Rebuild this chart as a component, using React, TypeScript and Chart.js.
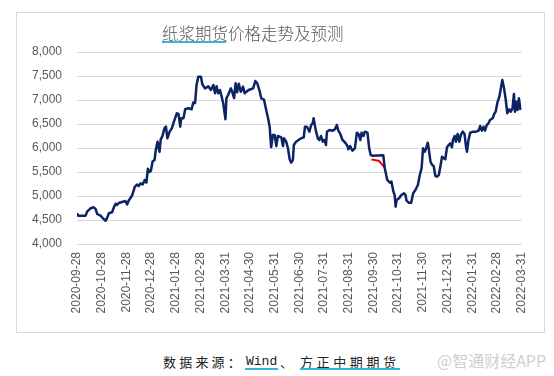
import React, { useEffect, useRef } from 'react';
import { Chart, registerables } from 'chart.js';

Chart.register(...registerables);

const xLabels = [
  '2020-09-28', '2020-10-28', '2020-11-28', '2020-12-28', '2021-01-28', '2021-02-28',
  '2021-03-31', '2021-04-30', '2021-05-31', '2021-06-30', '2021-07-31', '2021-08-31',
  '2021-09-30', '2021-10-31', '2021-11-30', '2021-12-31', '2022-01-31', '2022-02-28', '2022-03-31',
];

const yTicks = [4000, 4500, 5000, 5500, 6000, 6500, 7000, 7500, 8000];

// time position in label-interval units (0 = 2020-09-28, 18 = 2022-03-31)
const priceT = [
  0, 0.05, 0.35, 0.41, 0.55, 0.68, 0.75, 0.82, 0.95, 1.09, 1.16, 1.22, 1.29, 1.42, 1.49, 1.56, 1.62, 1.69,
  1.82, 1.96, 2.03, 2.09, 2.23, 2.34, 2.43, 2.5, 2.57, 2.66, 2.74, 2.81, 2.87, 2.93, 2.99, 3.06, 3.14, 3.19,
  3.26, 3.34, 3.39, 3.46, 3.54, 3.6, 3.66, 3.75, 3.84, 3.91, 3.97, 4.04, 4.11, 4.18, 4.22, 4.31, 4.38, 4.51,
  4.64, 4.71, 4.78, 4.84, 4.91, 5.02, 5.07, 5.18, 5.32, 5.42, 5.52, 5.59, 5.65, 5.72, 5.79, 5.85, 5.92, 6.01,
  6.05, 6.12, 6.23, 6.28, 6.36, 6.42, 6.48, 6.55, 6.63, 6.72, 6.79, 6.86, 6.95, 7.13, 7.22, 7.3, 7.4, 7.46,
  7.57, 7.66, 7.73, 7.8, 7.86, 7.93, 8.0, 8.07, 8.13, 8.27, 8.34, 8.38, 8.47, 8.54, 8.61, 8.67, 8.74, 8.78,
  8.87, 8.97, 9.07, 9.18, 9.23, 9.31, 9.41, 9.48, 9.54, 9.58, 9.64, 9.68, 9.75, 9.81, 9.88, 9.95, 10.02, 10.08,
  10.12, 10.22, 10.35, 10.44, 10.52, 10.58, 10.66, 10.75, 10.82, 10.88, 10.95, 10.99, 11.06, 11.15, 11.25,
  11.33, 11.4, 11.47, 11.52, 11.6, 11.65, 11.76, 11.83, 11.89, 11.96, 12.4, 12.46, 12.56, 12.67, 12.73, 12.81,
  12.86, 12.9, 12.94, 13.04, 13.13, 13.24, 13.3, 13.34, 13.44, 13.53, 13.61, 13.7, 13.8, 13.88, 13.95, 14.01,
  14.08, 14.15, 14.2, 14.24, 14.31, 14.38, 14.44, 14.51, 14.58, 14.65, 14.71, 14.78, 14.85, 14.91, 14.98,
  15.05, 15.11, 15.18, 15.22, 15.29, 15.34, 15.41, 15.48, 15.54, 15.62, 15.69, 15.75, 15.79, 15.85, 15.92,
  16.03, 16.16, 16.26, 16.32, 16.39, 16.46, 16.52, 16.59, 16.66, 16.72, 16.83, 16.89, 16.95, 17.02, 17.1,
  17.16, 17.22, 17.29, 17.36, 17.42, 17.49, 17.56, 17.63, 17.69, 17.73, 17.8, 17.84, 17.89, 17.96,
];

const priceV = [
  4640, 4590, 4590, 4674, 4744, 4765, 4730, 4625, 4590, 4515, 4486, 4545, 4640, 4660, 4760, 4840, 4813, 4855,
  4875, 4895, 4825, 4900, 5010, 5190, 5240, 5209, 5264, 5240, 5334, 5280, 5570, 5500, 5520, 5720, 5750, 5960,
  6132, 5920, 6181, 6250, 6410, 6444, 6202, 6340, 6410, 6527, 6619, 6723, 6708, 6444, 6619, 6620, 6806, 6827,
  6806, 6950, 6935, 7313, 7486, 7486, 7333, 7243, 7285, 7208, 7313, 7139, 7285, 7139, 7208, 7083, 6931, 6598,
  7040, 7104, 7243, 7173, 7040, 7348, 7160, 7340, 7173, 7278, 7139, 7173, 7208, 7243, 7395, 7348, 7173, 7035,
  7010, 6792, 6635, 6444, 6015, 6271, 6271, 6042, 6250, 6223, 6042, 6202, 6132, 5994, 5765, 5694, 5750, 6063,
  6132, 6167, 6202, 6223, 6444, 6444, 6340, 6479, 6514, 6619, 6444, 6340, 6202, 6167, 6250, 6132, 6167, 6063,
  6340, 6375, 6361, 6389, 6479, 6361, 6292, 6167, 6132, 6097, 6042, 5973, 6042, 5944, 5994,
  6320, 6292, 6167, 6320, 6250, 6340, 6320, 5994, 5854, 5840, 5850, 5577, 5334, 5278, 5300, 5090,
  5021, 4778, 4917, 4952, 5021, 5056, 5021, 4903, 4861, 4861, 5056, 5125, 5230, 5438, 5577, 5994,
  5923, 6015, 6111, 5994, 5715, 5646, 5625, 5417, 5403, 5438, 5611, 5819, 5785, 5765, 6015,
  6063, 6097, 6015, 6167, 6250, 6132, 6292, 6132, 6271, 6340, 6292, 6028, 5923, 6167, 6320,
  6340, 6340, 6361, 6458, 6361, 6444, 6361, 6479, 6514, 6583, 6619, 6708, 6757, 6944, 7069,
  7243, 7417, 7243, 7000, 6723, 6806, 6757, 6827, 7125, 6757, 6965, 6792, 7035, 6792,
];

const forecastT = [11.92, 12.05, 12.23, 12.44];
const forecastV = [5760, 5750, 5729, 5600];

const fmt = (v: number) => String(v).replace(/\B(?=(\d{3})+(?!\d))/g, ',');

export default function App() {
  const ref = useRef<HTMLCanvasElement>(null);

  useEffect(() => {
    const canvas = ref.current;
    if (!canvas) return;
    const chart = new Chart(canvas, {
      type: 'line',
      data: {
        datasets: [
          {
            data: priceT.map((t, i) => ({ x: t, y: priceV[i] })),
            borderColor: '#0c2366',
            borderWidth: 2.5,
            pointRadius: 0,
            tension: 0,
            borderJoinStyle: 'round',
          },
          {
            data: forecastT.map((t, i) => ({ x: t, y: forecastV[i] })),
            borderColor: '#ff0000',
            borderWidth: 2,
            pointRadius: 0,
            tension: 0,
          },
        ],
      },
      options: {
        animation: false,
        responsive: false,
        maintainAspectRatio: false,
        layout: { padding: { top: 39, right: 19, left: 0, bottom: 0 } },
        plugins: {
          legend: { display: false },
          tooltip: { enabled: false },
          title: { display: false },
        },
        scales: {
          x: {
            type: 'linear',
            min: 0,
            max: 18,
            grid: { display: false, drawTicks: false },
            border: { display: false },
            afterBuildTicks: (scale: any) => {
              scale.ticks = xLabels.map((_, i) => ({ value: i }));
            },
            ticks: {
              autoSkip: false,
              maxRotation: 90,
              minRotation: 90,
              padding: 8,
              color: '#595959',
              font: { family: 'Liberation Sans', size: 12 },
              callback: (v: any) => xLabels[Math.round(Number(v))] ?? '',
            },
            afterFit: (s: any) => {
              s.height = 88;
            },
          },
          y: {
            min: 4000,
            max: 8000,
            afterBuildTicks: (scale: any) => {
              scale.ticks = yTicks.map((v) => ({ value: v }));
            },
            grid: { color: '#d9d9d9', drawTicks: false, lineWidth: 1 },
            border: { display: false },
            ticks: {
              padding: 15,
              color: '#595959',
              font: { family: 'Liberation Sans', size: 12 },
              callback: (v: any) => fmt(Number(v)),
            },
            afterFit: (s: any) => {
              s.width = 60;
            },
          },
        },
      },
    });
    return () => chart.destroy();
  }, []);

  const abs = (o: any) => ({ position: 'absolute' as const, whiteSpace: 'nowrap' as const, ...o });

  return (
    <div style={{ position: 'fixed', left: 0, top: 0, width: 554, height: 376, background: '#fff', overflow: 'hidden' }}>
      <div style={abs({ left: 16, top: 12, width: 527, height: 319, border: '1px solid #d9d9d9', background: '#fff' })}>
        <canvas ref={ref} width={527} height={319} style={{ display: 'block' }} />
      </div>
      <div style={abs({ left: 162, top: 23, fontFamily: '"Noto Sans CJK SC"', fontSize: 16.5, lineHeight: '20px', color: '#595959', fontWeight: 300 })}>
        纸浆期货价格走势及预测
      </div>
      <div style={abs({ left: 162, top: 41, width: 64, height: 2, background: '#3ab5d5' })} />

      <div style={abs({ left: 163, top: 354, fontFamily: '"Noto Sans CJK SC"', fontSize: 13, lineHeight: '16px', color: '#222', letterSpacing: 3.2 })}>
        数据来源：
      </div>
      <div style={abs({ left: 246, top: 354, fontFamily: '"Liberation Mono"', fontSize: 13, lineHeight: '16px', color: '#222' })}>
        Wind
      </div>
      <div style={abs({ left: 280, top: 354, fontFamily: '"Noto Sans CJK SC"', fontSize: 13, lineHeight: '16px', color: '#222' })}>
        、
      </div>
      <div style={abs({ left: 300, top: 354, fontFamily: '"Noto Sans CJK SC"', fontSize: 13, lineHeight: '16px', color: '#222', letterSpacing: 3.6 })}>
        方正中期期货
      </div>
      <div style={abs({ left: 245, top: 368, width: 33, height: 2, background: '#3ab5d5' })} />
      <div style={abs({ left: 300, top: 368, width: 100, height: 2, background: '#3ab5d5' })} />

      <div style={abs({ left: 437, top: 350, fontFamily: '"Noto Sans CJK SC"', fontSize: 16, lineHeight: '20px', color: '#cfcfcf' })}>
        @智通财经APP
      </div>
    </div>
  );
}
